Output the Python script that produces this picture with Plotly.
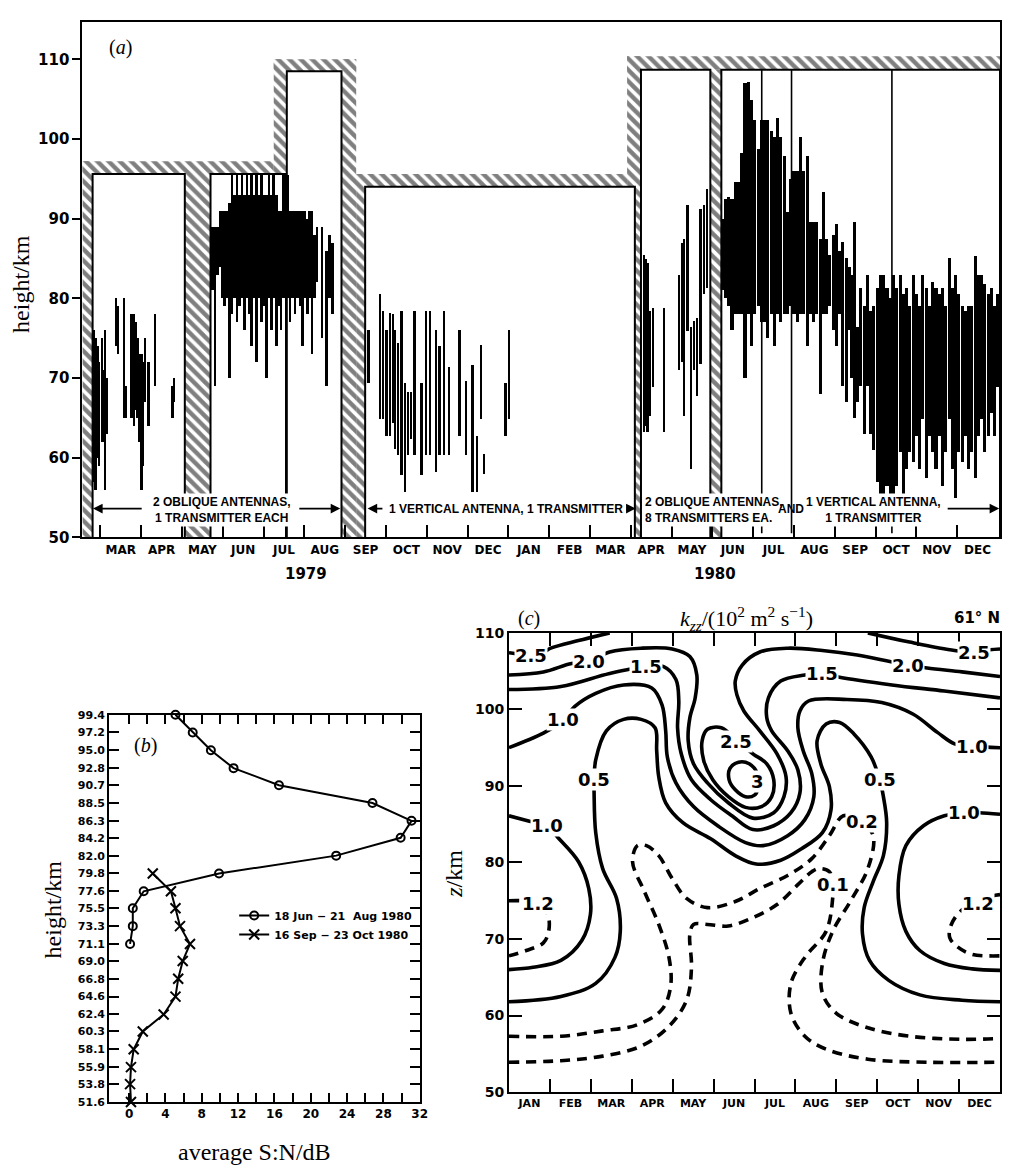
import plotly.graph_objects as go

# The page body keeps an 8 px margin, so the figure is drawn 8 px smaller and
# every pixel position is expressed relative to the figure's own origin.
OFF = 8
FIG_W, FIG_H = 1011 - OFF, 1175 - OFF


def fx(p):
    return (p - OFF) / FIG_W


def fy(p):
    return 1 - (p - OFF) / FIG_H


# ---------------- panel (a): echo height ranges, months since 1 Jan 1979 ----------------
a_month_labels = ["MAR", "APR", "MAY", "JUN", "JUL", "AUG", "SEP", "OCT", "NOV", "DEC", "JAN", "FEB",
                  "MAR", "APR", "MAY", "JUN", "JUL", "AUG", "SEP", "OCT", "NOV", "DEC"]
a_month_mid = [2.5 + i for i in range(len(a_month_labels))]
a_month_edges = [2 + i for i in range(len(a_month_labels))]
a_height_ticks = [50, 60, 70, 80, 90, 100, 110]

# hatched (no-data / out-of-range) areas
hatch_x0 = [1.56, 1.56, 4.07, 6.25, 6.25, 7.91, 8.27, 8.27, 14.91, 15.10, 14.91, 16.95]
hatch_x1 = [1.81, 6.25, 4.70, 6.55, 8.27, 8.27, 8.49, 14.91, 15.25, 15.25, 24.05, 17.22]
hatch_z0 = [50, 95.6, 50, 95.6, 108.5, 50, 50, 94.0, 94.0, 50, 108.7, 50]
hatch_z1 = [97.2, 97.2, 95.6, 110.0, 110.0, 110.0, 95.6, 95.6, 110.4, 94.0, 110.4, 108.7]

# observing windows (white boxes)
box_x0 = [1.81, 4.70, 6.57, 8.49, 15.25, 17.22]
box_x1 = [4.07, 6.55, 7.91, 15.10, 16.95, 24.05]
box_top = [95.6, 95.6, 108.5, 94.0, 108.7, 108.7]

a1_t = [1.85, 1.89, 1.94, 1.98, 2.05, 2.09, 2.13, 2.17, 2.40, 2.44, 2.58, 2.63, 2.76, 2.80, 2.84, 2.88,
        2.92, 2.97, 3.02, 3.06, 3.11, 3.19, 3.35, 3.78, 3.82]
a1_lo = [57, 56, 60, 59, 62, 62, 56, 63, 74, 73, 65, 65, 65, 65, 64, 66, 65, 62, 56, 59, 67, 64, 69, 65, 67]
a1_hi = [76, 75, 74, 72, 75, 71, 76, 70, 80, 79, 80, 69, 78, 78, 78, 77, 75, 73, 73, 72, 75, 72, 78, 69, 70]

a2_t = [4.76, 4.82, 4.88, 4.94, 5.00, 5.06, 5.12, 5.18, 5.24, 5.30, 5.36, 5.42, 5.48, 5.54, 5.60, 5.66,
        5.72, 5.78, 5.84, 5.90, 5.96, 6.02, 6.08, 6.14, 6.20, 6.26, 6.32, 6.38, 6.44, 6.50, 6.60, 6.66,
        6.72, 6.78, 6.84, 6.90, 6.96, 7.02, 7.08, 7.14, 7.20, 7.26, 7.32, 7.44, 7.56, 7.62, 7.70]
a2_lo = [81, 69, 83, 84, 80, 79, 80, 70, 78, 80, 77, 79, 80, 76, 80, 78, 74, 80, 72, 80, 77, 79, 70, 80,
         76, 80, 74, 79, 76, 80, 80, 77, 80, 78, 80, 79, 74, 80, 78, 80, 73, 80, 82, 75, 69, 80, 78]
a2_hi = [89, 89, 89, 91, 91, 91, 91, 92, 95.5, 93, 95.5, 93, 95.5, 93, 95.5, 93, 95.5, 93, 95.5, 93,
         95.5, 93, 93, 95.5, 93, 95.5, 93, 91, 91, 95.5, 95.5, 91, 91, 91, 91, 91, 91, 91, 90, 91, 91,
         88, 89, 89, 86, 88, 87]

a4_t = [8.58, 8.86, 8.94, 9.02, 9.11, 9.19, 9.23, 9.31, 9.39, 9.47, 9.55, 9.63, 9.71, 9.88, 10.00, 10.08,
        10.24, 10.32, 10.44, 10.56, 10.81, 10.97, 11.13, 11.25, 11.33, 11.42, 11.94, 12.02]
a4_lo = [69.4, 64.8, 64.8, 62.7, 62.7, 64.3, 61.1, 60.3, 57.8, 55.7, 60.3, 62.3, 60.3, 57.8, 60.3, 60.3,
         58.2, 60.3, 60.3, 60.3, 62.7, 60.3, 55.7, 55.7, 64.8, 58.0, 62.7, 64.8]
a4_hi = [76.0, 80.5, 78.4, 76.0, 78.2, 78.0, 76.0, 74.4, 78.4, 69.4, 68.2, 68.2, 78.4, 69.4, 78.4, 78.4,
         76.0, 74.0, 78.4, 71.4, 76.0, 69.6, 71.6, 62.7, 74.1, 60.5, 69.4, 76.0]

a5_t = [15.34, 15.38, 15.42, 15.47, 15.55, 15.83, 16.20, 16.26, 16.32, 16.40, 16.48, 16.56, 16.64, 16.72,
        16.80, 16.88]
a5_lo = [63.2, 64.0, 63.2, 65.2, 68.9, 63.2, 71.0, 72.0, 65.2, 75.9, 58.6, 71.0, 67.7, 71.8, 80.5, 81.3]
a5_hi = [85.5, 85.0, 84.5, 78.4, 78.8, 78.8, 83.0, 87.0, 87.5, 91.7, 76.4, 77.2, 77.6, 91.2, 91.7, 93.7]

a6_t = [17.25, 17.33, 17.41, 17.49, 17.57, 17.65, 17.73, 17.81, 17.89, 17.97,
        18.05, 18.13, 18.21, 18.29, 18.37, 18.45, 18.53, 18.61, 18.69, 18.77,
        18.85, 18.93, 19.01, 19.09, 19.17, 19.25, 19.33, 19.41, 19.49, 19.57,
        19.65, 19.73, 19.81, 19.89, 19.97, 20.05, 20.13, 20.21, 20.29, 20.37,
        20.41, 20.49, 20.57, 20.65, 20.73, 20.81, 20.89, 20.97, 21.05, 21.13,
        21.21, 21.29, 21.37, 21.45, 21.53, 21.61, 21.69, 21.77, 21.85, 21.93,
        22.01, 22.09, 22.17, 22.25, 22.33, 22.41, 22.49, 22.57, 22.65, 22.73,
        22.81, 22.89, 22.97, 23.05, 23.13, 23.21, 23.29, 23.37, 23.45, 23.53,
        23.61, 23.69, 23.77, 23.85, 23.93, 24.00]
a6_lo = [81, 80, 79, 76, 78, 78, 78, 70, 78, 74,
         78, 79, 77, 77, 75, 78, 74, 78, 77, 78,
         78, 79, 78, 77, 78, 78, 74, 78, 77, 78,
         68, 78, 78, 79, 76, 74, 78, 69, 67, 76,
         70, 65, 67, 69, 63, 69, 63, 61, 57, 55.3,
         55.3, 56.5, 55.5, 55.3, 56.5, 60.7, 55.3, 58.6, 60.7, 59.5,
         62.7, 58.6, 64.8, 57.5, 62.7, 60.7, 58.6, 62.7, 56.5, 60.7,
         64.8, 58.6, 54.9, 60.7, 59.5, 62.7, 58.6, 60.7, 57.4, 62.7,
         64.8, 60.7, 62.7, 65.6, 62.7, 68.9]
a6_hi = [90, 92.5, 92.7, 92.5, 94.6, 94.6, 98.3, 107, 107.2, 104.9,
         102.4, 98.7, 102.4, 102.4, 102.4, 101, 100.3, 102.6, 100.3, 97.9,
         90.8, 95, 96, 96, 100.3, 96, 97.9, 89.6, 89.6, 89.6,
         87.5, 93.3, 87.5, 85.5, 88, 89.4, 86, 87.1, 85.1, 84,
         83, 89.6, 76.4, 81.3, 79, 83, 78.4, 79, 81.3, 83,
         83, 81.3, 80, 83, 81.3, 83, 80.5, 81.3, 79, 83,
         80.5, 79, 83, 81.3, 79, 82, 81.3, 80.5, 81.3, 79,
         85.1, 81.3, 83, 80.5, 79, 78.4, 79, 79, 85.3, 83,
         83, 81.8, 80.5, 81.3, 79, 80.5]

a_spike_t = [18.21, 18.94, 21.40]
a_spike_lo = [50.5, 50.5, 50.5]
a_spike_hi = [108.7, 108.7, 108.7]

# ---------------- panel (b): average S:N profiles ----------------
b_heights = [99.4, 97.2, 95.0, 92.8, 90.7, 88.5, 86.3, 84.2, 82.0, 79.8, 77.6, 75.5, 73.3, 71.1,
             69.0, 66.8, 64.6, 62.4, 60.3, 58.1, 55.9, 53.8, 51.6]
b_summer_h = [99.4, 97.2, 95.0, 92.8, 90.7, 88.5, 86.3, 84.2, 82.0, 79.8, 77.6, 75.5, 73.3, 71.1]
b_summer_sn = [5.1, 7.0, 9.0, 11.5, 16.5, 26.8, 31.1, 29.9, 22.8, 9.9, 1.6, 0.4, 0.4, 0.1]
b_autumn_h = [79.8, 77.6, 75.5, 73.3, 71.1, 69.0, 66.8, 64.6, 62.4, 60.3, 58.1, 55.9, 53.8, 51.6]
b_autumn_sn = [2.6, 4.6, 5.1, 5.6, 6.7, 5.9, 5.4, 5.1, 3.8, 1.5, 0.5, 0.2, 0.1, 0.2]
b_sn_ticks = [0, 4, 8, 12, 16, 20, 24, 28, 32]
b_sn_minor = [2, 6, 10, 14, 18, 22, 26, 30]

# ---------------- panel (c): k_zz contours (month of year, km) ----------------
c_months = ["JAN", "FEB", "MAR", "APR", "MAY", "JUN", "JUL", "AUG", "SEP", "OCT", "NOV", "DEC"]
c_height_ticks = [50, 60, 70, 80, 90, 100, 110]

c25l_m = [0, 0.3, 0.55, 0.85, 1.02, 1.7, 2.46]
c25l_z = [107.4, 107.2, 107.1, 107.5, 108.0, 109.0, 110.0]
c25r_m = [8.77, 9.79, 10.89, 11.36, 11.75, 12]
c25r_z = [110.0, 108.8, 107.7, 107.5, 107.8, 107.9]
c20_m = [0, 0.84, 1.53, 1.95, 2.46, 3.23, 3.99, 4.42, 4.59, 4.55, 4.42, 4.38, 4.51, 4.85, 5.36, 5.96,
         6.47, 6.72, 6.77, 6.55, 6.13, 5.74, 5.57, 5.53, 5.70, 6.13, 6.81, 7.66, 8.51, 9.28, 9.75, 10.22,
         11.07, 12]
c20_z = [104.5, 104.9, 106.0, 106.2, 107.5, 108.0, 107.9, 106.9, 104.5, 101.5, 98.9, 95.9, 92.9, 90.4,
         87.8, 85.8, 86.5, 88.6, 91.2, 94.2, 97.2, 99.8, 101.9, 103.7, 105.8, 107.5, 108.0, 107.7,
         107.1, 106.3, 105.8, 105.4, 104.9, 104.3]
c15_m = [0, 1.27, 2.46, 3.36, 3.78, 4.08, 4.15, 4.12, 4.21, 4.46, 4.93, 5.45, 5.96, 6.47, 6.89, 7.11,
         7.06, 6.81, 6.42, 6.30, 6.34, 6.64, 7.23, 7.66, 8.08, 9.36, 10.64, 12]
c15_z = [102.6, 103.0, 104.7, 105.6, 105.6, 103.9, 101.1, 97.6, 94.2, 90.8, 88.2, 86.1, 84.3, 84.8,
         86.5, 89.1, 92.1, 94.6, 97.2, 98.9, 101.5, 103.7, 104.5, 104.7, 104.2, 103.2, 102.4, 101.5]
c10u_m = [0, 0.84, 1.31, 1.61, 2.12, 2.80, 3.49, 3.74, 3.83, 3.87, 4.08, 4.51, 5.10, 5.78, 6.21, 6.81,
          7.23, 7.45, 7.40, 7.19, 7.06, 7.11, 7.32, 8.26, 9.11, 9.87, 10.47, 10.89, 11.32, 12]
c10u_z = [95.0, 96.9, 98.5, 100.4, 102.1, 103.2, 102.8, 100.6, 97.2, 93.8, 90.4, 87.3, 84.8, 82.6, 82.2,
          83.5, 85.6, 88.6, 91.6, 94.6, 97.6, 99.8, 101.1, 101.3, 100.9, 99.4, 97.0, 95.5, 95.2, 95.0]
c05_m = [0, 1.27, 2.12, 2.59, 2.72, 2.63, 2.29, 2.12, 2.08, 2.08, 2.12, 2.38, 2.80, 3.23, 3.57, 3.61,
         3.66, 3.83, 4.25, 4.93, 5.53, 6.04, 6.64, 7.15, 7.66, 7.87, 7.83, 7.62, 7.53, 7.75, 8.08, 8.43,
         8.85, 9.06, 9.15, 9.23, 9.15, 8.90, 8.68, 8.64, 8.81, 9.28, 10.04, 11.07, 12]
c05_z = [61.8, 62.5, 64.2, 67.6, 71.0, 75.3, 79.2, 83.9, 89.1, 90.8, 93.4, 97.2, 98.7, 98.7, 97.6, 94.6,
         91.2, 87.8, 85.2, 83.1, 80.9, 79.8, 80.3, 81.8, 83.9, 86.9, 89.9, 92.9, 95.9, 98.1, 98.3, 96.8,
         93.8, 90.8, 88.6, 85.2, 80.9, 77.5, 74.1, 70.6, 67.2, 64.6, 62.7, 62.0, 61.8]
c10l_m = [0, 0.50, 0.93, 1.19, 1.70, 1.95, 1.99, 1.78, 1.27, 0.59, 0]
c10l_z = [86.1, 85.4, 84.8, 83.3, 80.1, 76.6, 73.2, 69.8, 67.2, 66.3, 66.0]
c10r_m = [12, 11.49, 11.11, 10.64, 10.13, 9.70, 9.53, 9.53, 9.70, 10.04, 10.64, 11.32, 12]
c10r_z = [86.3, 86.5, 86.5, 86.1, 84.8, 82.2, 78.3, 74.5, 71.0, 68.5, 66.8, 66.1, 65.9]
c25c_m = [5.57, 5.96, 6.30, 6.47, 6.42, 6.17, 5.78, 5.36, 4.98, 4.76, 4.72, 4.85, 5.19, 5.57]
c25c_z = [95.9, 94.2, 92.9, 90.8, 88.6, 87.3, 87.2, 88.6, 90.8, 93.3, 95.9, 97.4, 97.6, 95.9]
c3_m = [6.07, 5.87, 5.61, 5.40, 5.38, 5.53, 5.78, 6.00, 6.08, 6.07]
c3_z = [91.6, 92.9, 93.1, 92.3, 90.8, 89.5, 88.6, 88.8, 89.6, 91.6]
# dashed
c12l_m = [0, 0.3, 0.72, 0.95, 0.97, 0.84, 0.42, 0]
c12l_z = [75.0, 75.0, 74.7, 73.2, 71.0, 69.5, 68.5, 67.8]
c12r_m = [12, 11.8, 11.45, 11.07, 10.81, 10.77, 10.98, 11.32, 12]
c12r_z = [75.8, 75.6, 74.7, 73.8, 71.9, 70.2, 68.9, 68.0, 67.8]
c02_m = [0, 1.27, 2.29, 3.14, 3.74, 3.95, 3.91, 3.66, 3.31, 3.02, 3.14, 3.36, 3.66, 3.99, 4.34, 4.85,
         5.53, 6.13, 6.81, 7.40, 7.83, 8.17, 8.60, 8.90, 8.77, 8.34, 7.91, 7.66, 7.66, 8.00, 8.77, 9.79,
         11.07, 12]
c02_z = [57.3, 57.3, 58.0, 58.8, 60.8, 63.8, 67.6, 71.9, 76.2, 80.1, 82.2, 82.2, 80.9, 77.9, 75.3, 74.1,
         74.9, 76.6, 78.3, 80.5, 83.5, 86.1, 85.4, 83.5, 79.2, 74.9, 71.0, 66.8, 62.9, 60.3, 58.4, 57.3,
         56.9, 57.0]
c01_m = [0, 1.27, 2.29, 3.23, 3.91, 4.34, 4.46, 4.42, 4.51, 4.85, 5.36, 5.96, 6.55, 7.06, 7.40, 7.57,
         7.83, 7.91, 7.91, 7.75, 7.23, 6.89, 6.89, 7.23, 7.75, 8.77, 10.22, 12]
c01_z = [53.9, 54.1, 54.7, 56.0, 58.6, 62.0, 66.3, 70.6, 71.9, 71.9, 71.7, 72.8, 74.5, 77.1, 78.8, 79.2,
         78.8, 77.1, 75.3, 71.0, 67.6, 64.2, 60.3, 57.3, 55.6, 54.3, 53.9, 53.9]

c_label_text = ["2.5", "2.0", "1.5", "1.0", "0.5", "1.0", "1.2", "2.5", "3", "2.0", "1.5", "2.5", "1.0",
                "0.5", "1.0", "1.2", "0.2", "0.1"]
c_label_m = [0.55, 1.95, 3.36, 1.31, 2.08, 0.93, 0.72, 5.55, 6.07, 9.75, 7.66, 11.36, 11.32, 9.06, 11.11,
             11.45, 8.62, 7.91]
c_label_z = [107.1, 106.2, 105.6, 98.7, 90.8, 84.8, 74.7, 95.8, 90.6, 105.8, 104.7, 107.5, 95.2, 90.8,
             86.5, 74.7, 85.4, 77.1]

# ---------------- figure ----------------
fig = go.Figure()
SERIF = "Liberation Serif"
SANS = "DejaVu Sans"

# (a) hatching
for x0, x1, z0, z1 in zip(hatch_x0, hatch_x1, hatch_z0, hatch_z1):
    fig.add_trace(go.Scatter(
        x=[x0, x1, x1, x0, x0], y=[z0, z0, z1, z1, z0], mode="lines",
        line=dict(width=0, color="white"), fill="toself", fillcolor="white",
        fillpattern=dict(shape="\\", fgcolor="black", bgcolor="white", size=8, solidity=0.55),
        xaxis="x", yaxis="y", showlegend=False, hoverinfo="skip"))

# (a) echo height ranges as floating bars
for t, lo, hi, w in [(a1_t, a1_lo, a1_hi, 0.055), (a2_t, a2_lo, a2_hi, 0.065),
                     (a4_t, a4_lo, a4_hi, 0.055), (a5_t, a5_lo, a5_hi, 0.055),
                     (a6_t, a6_lo, a6_hi, 0.075)]:
    fig.add_trace(go.Bar(x=t, y=[h - l for h, l in zip(hi, lo)], base=lo, width=w,
                         marker=dict(color="black", line=dict(width=0)),
                         xaxis="x", yaxis="y", showlegend=False, hoverinfo="skip"))

# (a) box outlines
for x0, x1, top in zip(box_x0, box_x1, box_top):
    fig.add_trace(go.Scatter(x=[x0, x0, x1, x1], y=[50, top, top, 50], mode="lines",
                             line=dict(color="black", width=2), xaxis="x", yaxis="y",
                             showlegend=False, hoverinfo="skip"))

# (a) thin spikes
sx, sy = [], []
for t, lo, hi in zip(a_spike_t, a_spike_lo, a_spike_hi):
    sx += [t, t, None]
    sy += [lo, hi, None]
fig.add_trace(go.Scatter(x=sx, y=sy, mode="lines", line=dict(color="black", width=1.6),
                         xaxis="x", yaxis="y", showlegend=False, hoverinfo="skip"))

# (b) profiles
fig.add_trace(go.Scatter(x=b_summer_sn, y=b_summer_h, mode="lines+markers", name="18 Jun − 21  Aug 1980",
                         line=dict(color="black", width=2),
                         marker=dict(symbol="circle-open", size=8, color="black", line=dict(width=2)),
                         xaxis="x2", yaxis="y2", cliponaxis=False))
fig.add_trace(go.Scatter(x=b_autumn_sn, y=b_autumn_h, mode="lines+markers", name="16 Sep − 23 Oct 1980",
                         line=dict(color="black", width=2),
                         marker=dict(symbol="x-thin-open", size=10, color="black", line=dict(width=2)),
                         xaxis="x2", yaxis="y2", cliponaxis=False))

# (c) contours
solid = [(c25l_m, c25l_z), (c25r_m, c25r_z), (c20_m, c20_z), (c15_m, c15_z), (c10u_m, c10u_z),
         (c05_m, c05_z), (c10l_m, c10l_z), (c10r_m, c10r_z), (c25c_m, c25c_z), (c3_m, c3_z)]
dashed = [(c12l_m, c12l_z), (c12r_m, c12r_z), (c02_m, c02_z), (c01_m, c01_z)]
for m, z in solid:
    fig.add_trace(go.Scatter(x=m, y=z, mode="lines", line=dict(color="black", width=3.6, shape="spline",
                                                              smoothing=1.0),
                             xaxis="x3", yaxis="y3", showlegend=False, hoverinfo="skip"))
for m, z in dashed:
    fig.add_trace(go.Scatter(x=m, y=z, mode="lines",
                             line=dict(color="black", width=3.6, shape="spline", smoothing=1.0,
                                       dash="10px,7px"),
                             xaxis="x3", yaxis="y3", showlegend=False, hoverinfo="skip"))

annotations = []
for txt, m, z in zip(c_label_text, c_label_m, c_label_z):
    annotations.append(dict(x=m, y=z, xref="x3", yref="y3", text=txt, showarrow=False,
                            xanchor="center", yanchor="middle",
                            font=dict(family=SANS, size=18, color="black", weight="bold"),
                            bgcolor="white", borderpad=0))

# (a) annotations
ann_font = dict(family="Liberation Sans", size=12, color="black", weight="bold")
arrows = [(1.82, 3.05), (7.88, 6.84), (8.55, 8.95), (15.12, 14.88), (24.03, 22.73)]
for head, tail in arrows:
    annotations.append(dict(x=head, y=53.6, ax=tail, ay=53.6, xref="x", yref="y", axref="x", ayref="y",
                            text="", showarrow=True, arrowhead=2, arrowsize=1.2, arrowwidth=1.6,
                            arrowcolor="black"))


def ptxt(x, y, text, font, **kw):
    d = dict(x=fx(x), y=fy(y), xref="paper", yref="paper", text=text, showarrow=False,
             xanchor="center", yanchor="middle", font=font)
    d.update(kw)
    return d


serif_title = dict(family=SERIF, size=24, color="black")
annotations += [
    dict(x=4.97, y=53.4, xref="x", yref="y", text="2 OBLIQUE ANTENNAS,<br>1 TRANSMITTER EACH",
         showarrow=False, font=ann_font, align="center", bgcolor="white", xanchor="center",
         yanchor="middle"),
    dict(x=11.95, y=53.6, xref="x", yref="y", text="1 VERTICAL ANTENNA, 1 TRANSMITTER",
         showarrow=False, font=ann_font, bgcolor="white", xanchor="center", yanchor="middle"),
    dict(x=15.30, y=53.4, xref="x", yref="y", text="2 OBLIQUE ANTENNAS,<br>8 TRANSMITTERS EA.",
         showarrow=False, font=ann_font, align="left", xanchor="left", yanchor="middle", bgcolor="white"),
    dict(x=18.92, y=53.6, xref="x", yref="y", text="AND", showarrow=False, font=ann_font,
         xanchor="center", yanchor="middle"),
    dict(x=20.94, y=53.4, xref="x", yref="y", text="1 VERTICAL ANTENNA,<br>1 TRANSMITTER",
         showarrow=False, font=ann_font, align="center", bgcolor="white", xanchor="center",
         yanchor="middle"),
    ptxt(308, 574, "1979", dict(family=SANS, size=15, color="black", weight="bold")),
    ptxt(721, 574, "1980", dict(family=SANS, size=15, color="black", weight="bold")),
    ptxt(121, 40, "(<i>a</i>)", dict(family=SERIF, size=20, color="black")),
    ptxt(21, 280, "height/km", serif_title, textangle=-90),
    # (b)
    ptxt(147, 748, "(<i>b</i>)", dict(family=SERIF, size=20, color="black")),
    ptxt(53, 915, "height/km", serif_title, textangle=-90),
    ptxt(256, 1161, "average S:N/dB", serif_title),
    # (c)
    ptxt(533, 619, "(<i>c</i>)", dict(family=SERIF, size=20, color="black")),
    ptxt(752, 619, "<i>k</i><sub><i>zz</i></sub>/(10<sup>2</sup> m<sup>2</sup> s<sup>−1</sup>)",
         dict(family=SERIF, size=22, color="black")),
    ptxt(1010, 619, "61° N", dict(family=SANS, size=15, color="black", weight="bold"), xanchor="right"),
    ptxt(458, 878, "<i>z</i>/km", serif_title, textangle=-90),
]

axis_common = dict(showgrid=False, zeroline=False, showline=True, linecolor="black", linewidth=2,
                   tickcolor="black")

fig.update_layout(
    width=FIG_W, height=FIG_H, autosize=False,
    margin=dict(l=0, r=0, t=0, b=0),
    paper_bgcolor="white", plot_bgcolor="white",
    barmode="overlay", bargap=0,
    annotations=annotations,
    legend=dict(x=fx(236), y=fy(906), xanchor="left", yanchor="top", bgcolor="rgba(0,0,0,0)",
                font=dict(family=SANS, size=11, color="black", weight="bold"),
                itemwidth=30, tracegroupgap=0),
    xaxis=dict(axis_common, anchor="y", domain=[fx(83), fx(1008)], range=[1.56, 24.05], mirror=True,
               tickvals=a_month_mid, ticktext=a_month_labels, ticks="", ticklen=0,
               minor=dict(tickvals=a_month_edges, ticks="inside", ticklen=12, tickwidth=2,
                          tickcolor="black", showgrid=False),
               tickfont=dict(family=SANS, size=12, color="black", weight="bold")),
    yaxis=dict(axis_common, anchor="x", domain=[fy(537), fy(14)], range=[50, 114.7], mirror=True,
               tickvals=a_height_ticks, ticks="outside", ticklen=8, tickwidth=2,
               tickfont=dict(family=SANS, size=15, color="black", weight="bold")),
    xaxis2=dict(axis_common, anchor="y2", domain=[fx(110), fx(423)], range=[-2.2, 32], mirror="ticks",
                tickvals=b_sn_ticks, ticks="inside", ticklen=9, tickwidth=2,
                minor=dict(tickvals=b_sn_minor, ticks="inside", ticklen=9, tickwidth=2, tickcolor="black",
                           showgrid=False),
                tickfont=dict(family=SANS, size=12, color="black", weight="bold")),
    yaxis2=dict(axis_common, anchor="x2", domain=[fy(1110), fy(717)], range=[51.6, 99.4], mirror="ticks",
                tickvals=b_heights, ticktext=[f"{h:.1f}" for h in b_heights], ticks="inside",
                ticklen=10, tickwidth=2,
                tickfont=dict(family=SANS, size=11, color="black", weight="bold")),
    xaxis3=dict(axis_common, anchor="y3", domain=[fx(513), fx(1008)], range=[0, 12], mirror="ticks",
                tickvals=[i + 0.5 for i in range(12)], ticktext=c_months, ticks="", ticklen=0,
                minor=dict(tickvals=list(range(1, 12)), ticks="inside", ticklen=13, tickwidth=2,
                           tickcolor="black", showgrid=False),
                tickfont=dict(family=SANS, size=11, color="black", weight="bold")),
    yaxis3=dict(axis_common, anchor="x3", domain=[fy(1100), fy(634)], range=[50, 110], mirror="ticks",
                tickvals=c_height_ticks, ticks="inside", ticklen=13, tickwidth=2,
                tickfont=dict(family=SANS, size=14, color="black", weight="bold")),
)

fig.write_html("out.html")
